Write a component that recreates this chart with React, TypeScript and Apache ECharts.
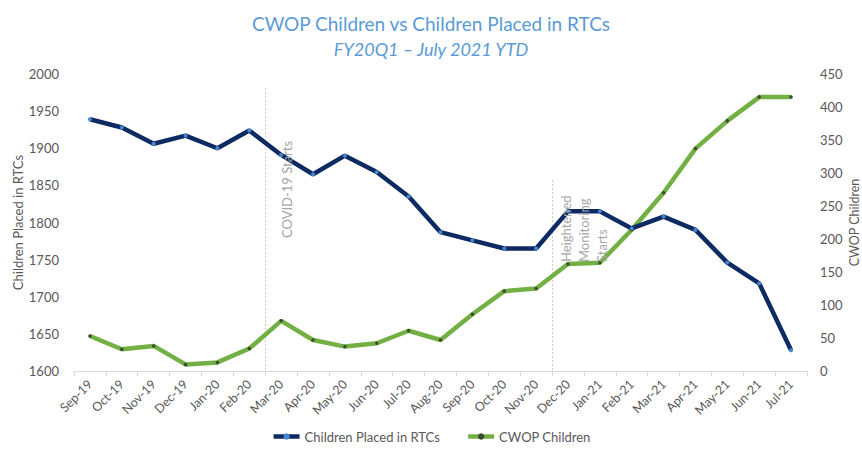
import React, { useEffect, useRef } from "react";
import * as echarts from "echarts";

const months = [
  "Sep-19", "Oct-19", "Nov-19", "Dec-19", "Jan-20", "Feb-20", "Mar-20", "Apr-20",
  "May-20", "Jun-20", "Jul-20", "Aug-20", "Sep-20", "Oct-20", "Nov-20", "Dec-20",
  "Jan-21", "Feb-21", "Mar-21", "Apr-21", "May-21", "Jun-21", "Jul-21",
];
const rtcChildren = [
  1939, 1928, 1906, 1917, 1900, 1924, 1891, 1865, 1890, 1868, 1835, 1787,
  1776, 1765, 1765, 1815, 1815, 1792, 1808, 1790, 1746, 1718, 1628,
];
const cwopChildren = [
  53, 33, 38, 10, 13, 34, 76, 47, 37, 42, 61, 47,
  86, 121, 125, 162, 164, 214, 270, 337, 379, 415, 415,
];
const leftTicks = { min: 1600, max: 2000, interval: 50 };
const rightTicks = { min: 0, max: 450, interval: 50 };
const annotations = [
  { after: "Feb-20", before: "Mar-20", text: "COVID-19 Starts", top: 1981, dx: 12, y: 238 },
  { after: "Nov-20", before: "Dec-20", text: "Heightened\nMonitoring\nStarts", top: 1857, dx: 4, y: 262 },
];

const FONT = "Lato, 'Open Sans', sans-serif";
const GRAY = "#595959";

export default function App() {
  const ref = useRef<HTMLDivElement>(null);
  useEffect(() => {
    if (!ref.current) return;
    document.body.style.margin = "0";
    const chart = echarts.init(ref.current, undefined, { renderer: "svg" });
    const option: any = {
      animation: false,
      textStyle: { fontFamily: FONT },
      title: [
        {
          text: "CWOP Children vs Children Placed in RTCs",
          left: "center",
          top: 9,
          textStyle: { color: "#5b9bd5", fontSize: 19, fontWeight: "normal", fontFamily: FONT },
        },
        {
          text: "FY20Q1 – July 2021 YTD",
          left: "center",
          top: 35,
          textStyle: { color: "#5b9bd5", fontSize: 18, fontWeight: "normal", fontStyle: "italic", fontFamily: FONT },
        },
      ],
      legend: {
        bottom: 4,
        left: "center",
        itemWidth: 26,
        itemHeight: 8,
        itemGap: 26,
        lineStyle: { width: 4.5 },
        textStyle: { color: GRAY, fontSize: 13, fontFamily: FONT },
        data: ["Children Placed in RTCs", "CWOP Children"],
      },
      grid: { left: 74, right: 55, top: 74, bottom: 81, containLabel: false, outerBoundsMode: "none" },
      xAxis: {
        type: "category",
        data: months,
        boundaryGap: true,
        axisLine: { lineStyle: { color: "#d9d9d9" } },
        axisTick: { show: true, alignWithLabel: false, lineStyle: { color: "#d9d9d9" }, length: 5 },
        axisLabel: { rotate: 45, color: GRAY, fontSize: 12.5, fontFamily: FONT, interval: 0, margin: 11 },
        splitLine: { show: false },
      },
      yAxis: [
        {
          type: "value",
          ...leftTicks,
          name: "Children Placed in RTCs",
          nameLocation: "middle",
          nameGap: 50,
          nameMoveOverlap: false,
          nameTextStyle: { color: GRAY, fontSize: 13, fontFamily: FONT },
          axisLine: { show: false },
          axisTick: { show: false },
          splitLine: { show: false },
          axisLabel: { color: GRAY, fontSize: 13, fontFamily: FONT, margin: 15, formatter: (v: number) => String(v) },
        },
        {
          type: "value",
          ...rightTicks,
          name: "CWOP Children",
          nameLocation: "middle",
          nameGap: 41,
          nameMoveOverlap: false,
          nameTextStyle: { color: GRAY, fontSize: 12.5, fontFamily: FONT },
          axisLine: { show: false },
          axisTick: { show: false },
          splitLine: { show: false },
          axisLabel: { color: GRAY, fontSize: 13, fontFamily: FONT, margin: 13, formatter: (v: number) => String(v) },
        },
      ],
      series: [
        {
          name: "Children Placed in RTCs",
          type: "line",
          yAxisIndex: 0,
          data: rtcChildren,
          lineStyle: { color: "#0d2a62", width: 4.5 },
          itemStyle: { color: "#4a86d0", borderWidth: 0 },
          symbol: "circle",
          symbolSize: 4,
          z: 3,
        },
        {
          name: "CWOP Children",
          type: "line",
          yAxisIndex: 1,
          data: cwopChildren,
          lineStyle: { color: "#72b043", width: 4.5 },
          itemStyle: { color: "#3d4a30", borderWidth: 0 },
          symbol: "circle",
          symbolSize: 3.5,
          z: 2,
        },
      ],
    };
    chart.setOption(option);

    const graphics: any[] = [];
    const bottomY = chart.convertToPixel({ yAxisIndex: 0 }, leftTicks.min) as number;
    annotations.forEach((a) => {
      const x1 = chart.convertToPixel({ xAxisIndex: 0 }, a.after) as number;
      const x2 = chart.convertToPixel({ xAxisIndex: 0 }, a.before) as number;
      const x = Math.round((x1 + x2) / 2) + 0.5;
      const topY = chart.convertToPixel({ yAxisIndex: 0 }, a.top) as number;
      graphics.push({
        type: "line",
        silent: true,
        shape: { x1: x, y1: topY, x2: x, y2: bottomY },
        style: { stroke: "#c8c8c8", lineWidth: 1, lineDash: [2, 2] },
        z: 1,
      });
      graphics.push({
        type: "text",
        silent: true,
        x: x + a.dx,
        y: a.y,
        rotation: Math.PI / 2,
        style: {
          text: a.text,
          fill: "#a6a6a6",
          font: `13px ${FONT}`,
          align: "left",
          verticalAlign: "top",
          lineHeight: 18,
        },
        z: 10,
      });
    });
    chart.setOption({ graphic: graphics });

    return () => chart.dispose();
  }, []);
  return <div ref={ref} style={{ width: 862, height: 452 }} />;
}
